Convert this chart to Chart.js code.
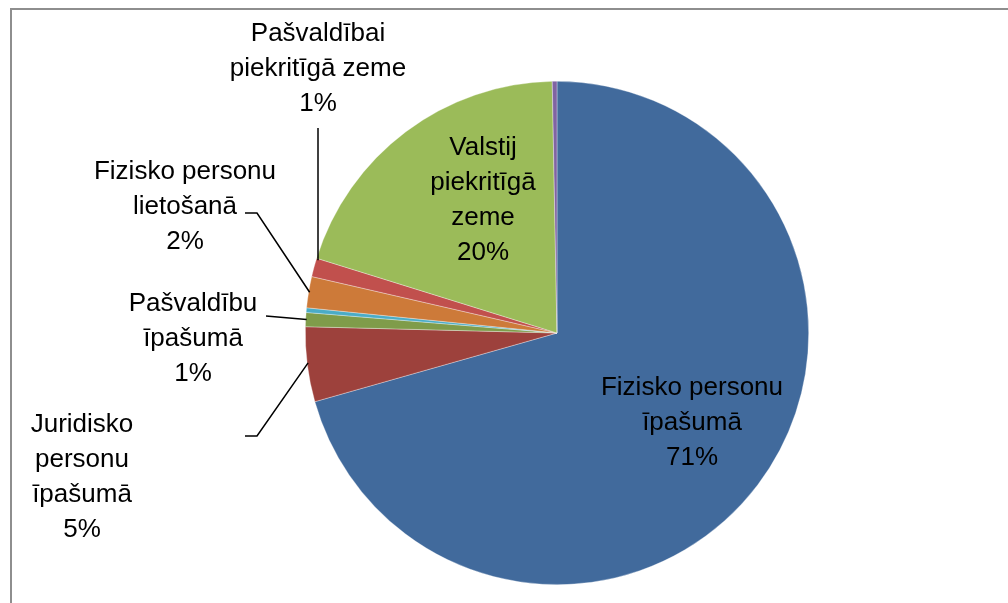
<!DOCTYPE html>
<html>
<head>
    <meta charset="utf-8">
    <title>Zemes īpašuma struktūra</title>
    <style>
        body {
            margin: 0;
            padding: 0;
            background-color: #fff;
            overflow: hidden;
        }
        #wrap {
            position: relative;
            width: 1008px;
            height: 603px;
        }
        #frame {
            position: absolute;
            left: 10px;
            top: 8px;
            width: 1100px;
            height: 700px;
            border-top: 2px solid #8e8e8e;
            border-left: 2px solid #8e8e8e;
        }
        #land-chart {
            position: absolute;
            left: 0;
            top: 0;
        }
    </style>
    <script src="https://cdn.jsdelivr.net/npm/chart.js"></script>
</head>
<body>
    <div id="wrap">
        <div id="frame"></div>
        <canvas id="land-chart" width="1008" height="603"></canvas>
    </div>

    <script>
        // data (share of area, %)
        const categories = [
            'Fizisko personu īpašumā',
            'Juridisko personu īpašumā',
            'Pašvaldību īpašumā',
            '',
            'Fizisko personu lietošanā',
            'Pašvaldībai piekritīgā zeme',
            'Valstij piekritīgā zeme',
            ''
        ];
        const shares = [70.6, 4.8, 0.9, 0.3, 2.0, 1.2, 19.9, 0.3];
        const percentLabels = ['71%', '5%', '1%', '', '2%', '1%', '20%', ''];
        const labelLines = [
            ['Fizisko personu', 'īpašumā'],
            ['Juridisko', 'personu', 'īpašumā'],
            ['Pašvaldību', 'īpašumā'],
            [],
            ['Fizisko personu', 'lietošanā'],
            ['Pašvaldībai', 'piekritīgā zeme'],
            ['Valstij', 'piekritīgā', 'zeme'],
            []
        ];
        const sliceColors = ['#416a9c', '#9d413c', '#7f9c4a', '#4bacc6', '#cd7a39', '#c1504d', '#9bbb59', '#8064a2'];

        // label placement relative to pie centre: text centre x, first baseline y,
        // leader start point(s) and where on the slice edge the leader ends (0..1 of the arc)
        const labelPlace = [
            { dx: 135, dy: 62 },
            { dx: -475, dy: 99, leader: [[-312, 103], [-300, 103]], at: 0.52 },
            { dx: -364, dy: -22, leader: [[-291, -17]], at: 0.5 },
            null,
            { dx: -372, dy: -154, leader: [[-312, -120], [-300, -120]], at: 0.5 },
            { dx: -239, dy: -292, leader: [[-239, -205]], at: 0.9, vertical: true },
            { dx: -74, dy: -178 },
            null
        ];

        const lineStep = 35;

        const labelPlugin = {
            id: 'sliceLabels',
            afterDatasetsDraw(chart) {
                const ctx = chart.ctx;
                const arcs = chart.getDatasetMeta(0).data;
                ctx.save();
                ctx.font = '26px "Liberation Sans", Arial, sans-serif';
                ctx.fillStyle = '#000';
                ctx.textAlign = 'center';
                ctx.textBaseline = 'alphabetic';
                ctx.strokeStyle = '#000';
                ctx.lineWidth = 1.5;
                arcs.forEach((arc, i) => {
                    const p = labelPlace[i];
                    if (!p) return;
                    const cx = arc.x, cy = arc.y;
                    const lines = labelLines[i].concat([percentLabels[i]]);
                    lines.forEach((t, k) => {
                        ctx.fillText(t, cx + p.dx, cy + p.dy + k * lineStep);
                    });
                    if (p.leader) {
                        const a = arc.startAngle + (arc.endAngle - arc.startAngle) * p.at;
                        const r = arc.outerRadius - 1;
                        let ex = cx + r * Math.cos(a);
                        let ey = cy + r * Math.sin(a);
                        if (p.vertical) {
                            ex = cx + p.leader[0][0];
                        }
                        ctx.beginPath();
                        ctx.moveTo(cx + p.leader[0][0], cy + p.leader[0][1]);
                        for (let k = 1; k < p.leader.length; k++) {
                            ctx.lineTo(cx + p.leader[k][0], cy + p.leader[k][1]);
                        }
                        ctx.lineTo(ex, ey);
                        ctx.stroke();
                    }
                });
                ctx.restore();
            }
        };

        const landChart = new Chart(document.getElementById('land-chart'), {
            type: 'pie',
            data: {
                labels: categories,
                datasets: [{
                    data: shares,
                    backgroundColor: sliceColors,
                    borderColor: 'rgba(255,255,255,0.55)',
                    borderWidth: 0.6
                }]
            },
            options: {
                responsive: false,
                maintainAspectRatio: false,
                animation: false,
                layout: {
                    padding: { left: 305, right: 199, top: 81, bottom: 18 }
                },
                plugins: {
                    legend: { display: false },
                    tooltip: { enabled: false }
                }
            },
            plugins: [labelPlugin]
        });
    </script>
</body>
</html>
